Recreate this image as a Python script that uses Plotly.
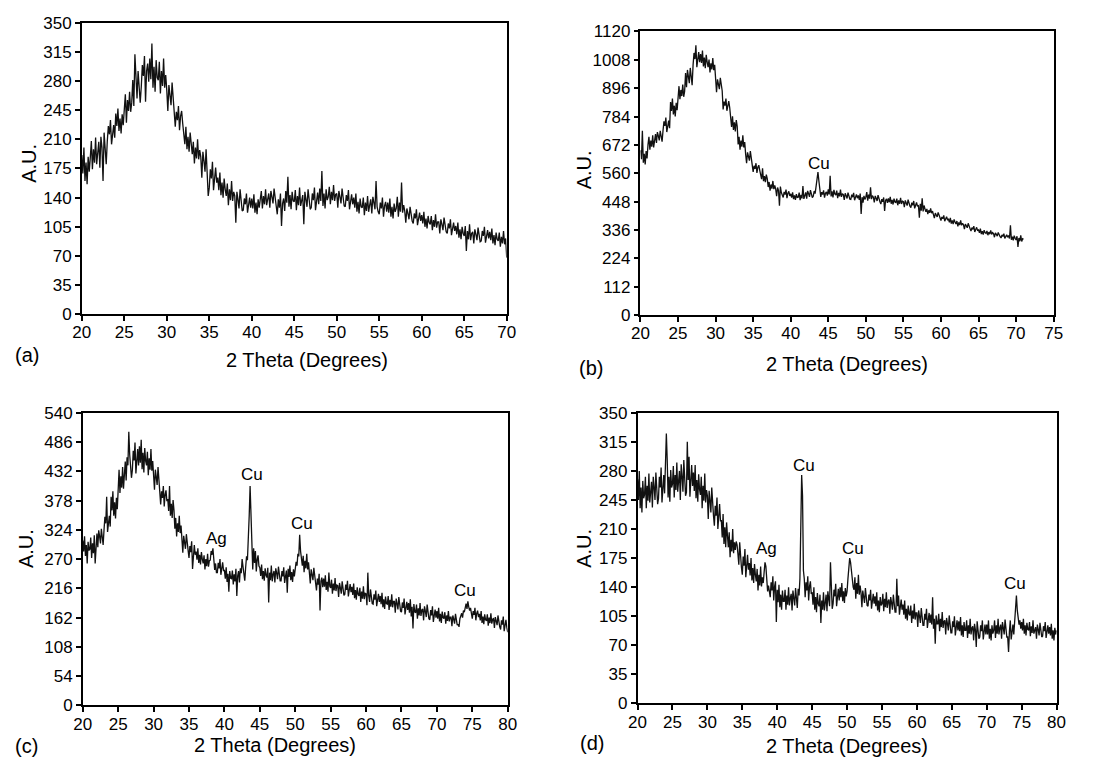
import numpy as np
import plotly.graph_objects as go

# ---- data: counts, 0.125 degree scan step, one row per degree ----
step = 0.125
a_start, b_start, c_start, d_start = 20.0, 20.0, 20.0, 20.0

a_counts = [
    191, 169, 200, 160, 182, 156, 189, 171,   # 20
    188, 208, 174, 198, 182, 212, 180, 194,   # 21
    207, 176, 213, 200, 160, 218, 191, 180,   # 22
    208, 226, 216, 233, 204, 221, 227, 212,   # 23
    241, 226, 247, 220, 235, 217, 240, 227,   # 24
    249, 264, 230, 257, 244, 267, 243, 254,   # 25
    281, 250, 312, 274, 259, 292, 265, 254,   # 26
    273, 299, 286, 310, 255, 292, 301, 279,   # 27
    307, 282, 325, 272, 297, 267, 305, 284,   # 28
    281, 303, 265, 292, 274, 307, 272, 287,   # 29
    269, 244, 275, 264, 251, 278, 257, 248,   # 30
    225, 243, 233, 250, 221, 238, 244, 229,   # 31
    219, 204, 225, 198, 213, 195, 218, 205,   # 32
    192, 207, 181, 200, 187, 210, 186, 197,   # 33
    189, 164, 195, 184, 171, 198, 177, 142,   # 34
    152, 174, 163, 183, 149, 169, 176, 158,   # 35
    164, 149, 170, 143, 158, 140, 163, 150,   # 36
    142, 157, 131, 150, 137, 160, 136, 147,   # 37
    142, 110, 147, 138, 127, 150, 131, 124,   # 38
    125, 139, 132, 145, 122, 135, 140, 128,   # 39
    139, 127, 144, 122, 134, 120, 138, 128,   # 40
    136, 148, 127, 142, 132, 150, 131, 139,   # 41
    145, 128, 148, 141, 133, 151, 136, 130,   # 42
    120, 138, 128, 145, 106, 133, 139, 124,   # 43
    148, 134, 165, 129, 143, 126, 147, 136,   # 44
    135, 149, 125, 142, 131, 152, 130, 139,   # 45
    143, 108, 147, 138, 129, 150, 133, 126,   # 46
    128, 145, 137, 152, 125, 141, 146, 132,   # 47
    151, 136, 172, 130, 145, 127, 150, 137,   # 48
    141, 153, 132, 147, 137, 155, 136, 144,   # 49
    145, 128, 148, 141, 133, 151, 136, 130,   # 50
    129, 143, 136, 149, 126, 139, 144, 132,   # 51
    140, 128, 145, 123, 135, 121, 139, 129,   # 52
    128, 140, 119, 134, 124, 142, 123, 131,   # 53
    138, 121, 141, 134, 126, 160, 129, 123,   # 54
    120, 134, 127, 140, 117, 130, 135, 123,   # 55
    134, 122, 139, 117, 129, 115, 133, 123,   # 56
    127, 141, 117, 134, 123, 158, 122, 131,   # 57
    124, 110, 127, 121, 114, 129, 117, 112,   # 58
    109, 121, 115, 126, 107, 118, 122, 112,   # 59
    119, 109, 123, 105, 115, 103, 118, 110,   # 60
    108, 118, 101, 113, 105, 120, 104, 111,   # 61
    111, 97, 114, 108, 101, 116, 104, 99,     # 62
    97, 109, 103, 114, 95, 106, 110, 100,     # 63
    106, 96, 110, 92, 102, 90, 105, 97,       # 64
    94, 106, 76, 100, 90, 108, 89, 97,        # 65
    99, 85, 102, 96, 89, 104, 92, 87,         # 66
    88, 100, 94, 105, 86, 97, 101, 91,        # 67
    99, 89, 103, 85, 95, 83, 98, 90,          # 68
    88, 98, 81, 93, 85, 100, 84, 91,          # 69
    68,                                       # 70
]

b_counts = [
    651, 616, 728, 602, 637, 595, 648, 619,           # 20
    674, 704, 653, 689, 665, 710, 662, 683,           # 21
    715, 680, 723, 708, 690, 728, 697, 685,           # 22
    729, 765, 747, 780, 723, 756, 768, 738,           # 23
    841, 806, 855, 792, 827, 785, 838, 809,           # 24
    874, 904, 853, 889, 865, 910, 862, 883,           # 25
    956, 900, 968, 944, 916, 976, 928, 908,           # 26
    987, 1035, 1011, 1065, 979, 1023, 1039, 999,      # 27
    1031, 996, 1045, 982, 1017, 975, 1028, 999,       # 28
    979, 1009, 958, 994, 970, 1015, 967, 988,         # 29
    922, 880, 931, 913, 892, 937, 901, 886,           # 30
    812, 843, 827, 855, 807, 835, 845, 820,           # 31
    773, 743, 785, 731, 761, 725, 770, 746,           # 32
    674, 704, 653, 689, 665, 710, 662, 683,           # 33
    635, 600, 643, 628, 610, 648, 617, 605,           # 34
    566, 590, 578, 600, 562, 584, 592, 572,           # 35
    557, 537, 580, 529, 549, 525, 555, 539,           # 36
    506, 526, 492, 516, 500, 530, 498, 512,           # 37
    498, 470, 504, 492, 432, 508, 484, 474,           # 38
    465, 487, 476, 496, 462, 482, 489, 471,           # 39
    479, 464, 485, 458, 473, 455, 478, 465,           # 40
    466, 484, 454, 475, 461, 510, 459, 472,           # 41
    485, 460, 491, 480, 467, 494, 473, 464,           # 42
    470, 490, 480, 510, 545, 565, 530, 500,           # 43
    467, 486, 476, 493, 464, 481, 487, 472,           # 44
    497, 477, 550, 469, 489, 465, 495, 479,           # 45
    474, 492, 462, 483, 469, 496, 467, 480,           # 46
    476, 455, 481, 472, 461, 484, 465, 458,           # 47
    457, 476, 466, 483, 454, 471, 477, 462,           # 48
    473, 455, 480, 400, 466, 444, 471, 457,           # 49
    466, 486, 452, 476, 460, 505, 458, 472,           # 50
    466, 445, 471, 462, 451, 474, 455, 448,           # 51
    439, 458, 448, 465, 412, 453, 459, 444,           # 52
    461, 446, 467, 440, 455, 437, 460, 447,           # 53
    445, 460, 434, 453, 440, 463, 439, 450,           # 54
    448, 427, 453, 444, 433, 456, 437, 430,           # 55
    425, 444, 434, 451, 422, 439, 445, 430,           # 56
    434, 385, 440, 413, 462, 410, 433, 420,           # 57
    408, 420, 399, 414, 404, 422, 403, 411,           # 58
    400, 383, 403, 396, 388, 406, 391, 385,           # 59
    374, 388, 381, 394, 371, 384, 389, 377,           # 60
    379, 367, 384, 362, 374, 360, 378, 368,           # 61
    360, 372, 351, 366, 356, 374, 355, 363,           # 62
    357, 340, 360, 353, 345, 363, 348, 342,           # 63
    332, 346, 339, 352, 329, 342, 347, 335,           # 64
    337, 325, 342, 320, 332, 318, 336, 326,           # 65
    323, 333, 316, 328, 320, 335, 319, 326,           # 66
    322, 308, 325, 319, 312, 327, 315, 310,           # 67
    305, 317, 311, 322, 303, 314, 318, 308,           # 68
    315, 303, 355, 298, 310, 296, 314, 304,           # 69
    297, 312, 270, 305, 292, 315, 291, 302,           # 70
    300,                                              # 71
]

c_counts = [
    304, 284, 312, 276, 296, 262, 302, 286,   # 20
    288, 310, 272, 299, 281, 314, 262, 294,   # 21
    317, 292, 323, 312, 299, 326, 305, 296,   # 22
    324, 348, 336, 385, 320, 342, 350, 330,   # 23
    385, 360, 395, 350, 375, 345, 383, 362,   # 24
    410, 435, 392, 423, 402, 440, 400, 418,   # 25
    450, 415, 458, 443, 505, 463, 432, 420,   # 26
    434, 470, 452, 485, 428, 461, 473, 443,   # 27
    478, 448, 490, 436, 466, 430, 475, 451,   # 28
    443, 468, 425, 456, 435, 473, 433, 451,   # 29
    429, 398, 435, 422, 407, 440, 413, 402,   # 30
    371, 395, 383, 405, 367, 389, 397, 377,   # 31
    381, 359, 405, 350, 372, 346, 379, 361,   # 32
    326, 346, 312, 336, 320, 350, 318, 332,   # 33
    307, 282, 313, 302, 289, 316, 295, 286,   # 34
    272, 294, 283, 303, 252, 289, 296, 278,   # 35
    284, 269, 290, 263, 278, 260, 283, 270,   # 36
    262, 277, 251, 270, 257, 280, 256, 267,   # 37
    268, 285, 278, 290, 270, 250, 262, 245,   # 38
    245, 263, 253, 270, 241, 258, 264, 249,   # 39
    249, 234, 255, 228, 243, 210, 248, 235,   # 40
    234, 249, 223, 242, 229, 252, 202, 239,   # 41
    248, 227, 253, 244, 270, 256, 237, 230,   # 42
    255, 275, 268, 300, 350, 405, 360, 300,   # 43
    251, 290, 263, 285, 247, 269, 277, 257,   # 44
    254, 239, 260, 233, 248, 230, 253, 240,   # 45
    236, 254, 190, 245, 231, 258, 229, 242,   # 46
    248, 227, 253, 244, 233, 256, 237, 230,   # 47
    230, 248, 238, 255, 226, 243, 249, 208,   # 48
    252, 237, 258, 231, 246, 228, 251, 238,   # 49
    255, 265, 258, 280, 275, 315, 285, 268,   # 50
    258, 276, 246, 267, 253, 280, 251, 264,   # 51
    246, 225, 251, 242, 231, 254, 235, 228,   # 52
    212, 234, 223, 243, 175, 229, 236, 218,   # 53
    234, 219, 240, 213, 228, 210, 245, 220,   # 54
    217, 232, 206, 225, 212, 235, 211, 222,   # 55
    221, 200, 226, 217, 206, 229, 210, 203,   # 56
    205, 223, 213, 230, 201, 218, 224, 209,   # 57
    219, 204, 225, 198, 213, 195, 218, 205,   # 58
    202, 217, 191, 210, 197, 220, 196, 207,   # 59
    206, 185, 245, 202, 191, 214, 195, 188,   # 60
    187, 205, 195, 212, 183, 200, 206, 191,   # 61
    202, 187, 208, 181, 196, 178, 201, 188,   # 62
    187, 202, 176, 195, 182, 205, 181, 192,   # 63
    192, 171, 197, 188, 177, 200, 181, 174,   # 64
    172, 190, 180, 197, 168, 185, 191, 176,   # 65
    189, 171, 196, 164, 182, 142, 187, 173,   # 66
    171, 186, 160, 179, 166, 189, 165, 176,   # 67
    178, 157, 183, 174, 163, 186, 167, 160,   # 68
    158, 176, 166, 183, 154, 171, 177, 162,   # 69
    174, 160, 180, 155, 169, 152, 173, 162,   # 70
    160, 172, 151, 166, 156, 174, 155, 163,   # 71
    163, 146, 166, 159, 151, 169, 154, 148,   # 72
    150, 145, 160, 165, 170, 162, 175, 172,   # 73
    180, 188, 178, 192, 182, 175, 180, 170,   # 74
    160, 174, 167, 180, 157, 170, 175, 163,   # 75
    169, 157, 174, 152, 164, 150, 168, 158,   # 76
    156, 168, 147, 162, 152, 170, 151, 159,   # 77
    160, 143, 163, 156, 148, 166, 151, 145,   # 78
    140, 157, 149, 164, 137, 153, 158, 144,   # 79
    135,                                      # 80
]

d_counts = [
    270, 245, 280, 235, 260, 230, 268, 247,   # 20
    251, 273, 235, 262, 244, 277, 242, 257,   # 21
    267, 236, 273, 260, 245, 278, 251, 240,   # 22
    247, 273, 260, 284, 242, 266, 275, 253,   # 23
    283, 325, 293, 248, 273, 243, 281, 260,   # 24
    264, 286, 248, 275, 257, 290, 255, 270,   # 25
    280, 245, 288, 273, 255, 293, 262, 250,   # 26
    254, 315, 269, 297, 249, 277, 287, 262,   # 27
    278, 256, 287, 247, 269, 243, 276, 258,   # 28
    251, 273, 235, 262, 244, 277, 242, 257,   # 29
    250, 222, 256, 244, 230, 260, 236, 226,   # 30
    214, 238, 226, 248, 210, 232, 240, 220,   # 31
    220, 200, 228, 192, 212, 188, 218, 202,   # 32
    188, 206, 176, 197, 183, 210, 181, 194,   # 33
    185, 195, 191, 180, 167, 194, 173, 164,   # 34
    155, 177, 166, 186, 152, 172, 179, 161,   # 35
    169, 154, 175, 148, 163, 145, 168, 155,   # 36
    147, 162, 136, 155, 142, 165, 141, 152,   # 37
    145, 158, 170, 165, 150, 135, 142, 132,   # 38
    128, 146, 136, 153, 124, 141, 147, 98,    # 39
    137, 122, 143, 116, 131, 113, 136, 123,   # 40
    123, 137, 113, 130, 119, 140, 118, 127,   # 41
    132, 112, 136, 127, 118, 139, 122, 115,   # 42
    138, 130, 150, 195, 275, 250, 160, 150,   # 43
    128, 146, 136, 153, 124, 141, 147, 132,   # 44
    134, 119, 140, 113, 128, 110, 133, 120,   # 45
    117, 131, 97, 124, 113, 134, 112, 121,    # 46
    131, 111, 135, 126, 117, 170, 121, 114,   # 47
    120, 137, 129, 144, 117, 133, 138, 124,   # 48
    140, 128, 145, 123, 135, 121, 139, 129,   # 49
    135, 150, 160, 175, 170, 160, 148, 140,   # 50
    137, 152, 126, 145, 132, 155, 131, 142,   # 51
    133, 116, 136, 129, 121, 139, 124, 118,   # 52
    117, 131, 124, 137, 114, 127, 132, 120,   # 53
    129, 117, 134, 112, 124, 110, 128, 118,   # 54
    120, 132, 111, 126, 116, 134, 115, 123,   # 55
    125, 108, 128, 121, 113, 131, 116, 110,   # 56
    110, 150, 117, 130, 107, 120, 125, 113,   # 57
    119, 107, 124, 102, 114, 100, 118, 108,   # 58
    106, 118, 97, 112, 102, 120, 101, 109,    # 59
    109, 92, 112, 105, 97, 115, 100, 94,      # 60
    94, 108, 101, 114, 91, 104, 109, 97,      # 61
    107, 95, 128, 90, 102, 72, 106, 96,       # 62
    96, 108, 87, 102, 92, 110, 91, 99,        # 63
    100, 83, 103, 96, 88, 106, 91, 85,        # 64
    85, 99, 92, 105, 82, 95, 100, 88,         # 65
    99, 87, 104, 82, 94, 80, 98, 88,          # 66
    88, 100, 79, 94, 84, 102, 83, 91,         # 67
    93, 76, 96, 89, 68, 99, 84, 78,           # 68
    80, 94, 87, 100, 77, 90, 95, 83,          # 69
    95, 83, 100, 78, 90, 76, 94, 84,          # 70
    88, 100, 79, 94, 84, 102, 83, 91,         # 71
    95, 78, 98, 91, 83, 101, 86, 80,          # 72
    80, 62, 87, 100, 77, 90, 95, 83,          # 73
    98, 110, 130, 112, 105, 95, 100, 90,      # 74
    98, 88, 102, 84, 94, 82, 97, 89,          # 75
    88, 98, 81, 93, 85, 100, 84, 91,          # 76
    92, 78, 95, 89, 82, 97, 85, 80,           # 77
    81, 93, 87, 98, 79, 90, 94, 84,           # 78
    92, 82, 96, 78, 88, 76, 91, 83,           # 79
    88,                                       # 80
]

panel_labels = ["(a)", "(b)", "(c)", "(d)"]
x_title = "2 Theta (Degrees)"
y_title = "A.U."

# peak labels: (panel index, 2theta, intensity, text)
peak_labels = [
    (1, 43.7, 600, "Cu"),
    (2, 38.9, 308, "Ag"), (2, 43.9, 427, "Cu"), (2, 51.0, 335, "Cu"), (2, 74.0, 212, "Cu"),
    (3, 38.45, 187, "Ag"), (3, 43.8, 286, "Cu"), (3, 50.8, 186, "Cu"), (3, 74.1, 144, "Cu"),
]

x_ranges = [(20, 70), (20, 75), (20, 80), (20, 80)]
y_ranges = [(0, 350), (0, 1120), (0, 540), (0, 350)]
y_dticks = [35, 112, 54, 35]

# ---- layout geometry (pixels) ----
W, H = 1100, 771
boxes = [  # left, right, top, bottom in px
    (74, 506, 14, 313),
    (642, 1062, 23, 314),
    (75, 507, 414, 714),
    (639, 1065, 414, 712),
]
xtitle_pos = [(303, 360), (852, 364), (270, 755), (852, 756)]
plabel_pos = [(4, 355), (577, 368), (4, 756), (578, 753)]
ytitle_pos = [(20, 158), (585, 165), (18, 553), (585, 553)]

FONT = "Liberation Sans, Arial, Helvetica, sans-serif"

series = [(a_start, a_counts), (b_start, b_counts), (c_start, c_counts), (d_start, d_counts)]

fig = go.Figure()
layout = dict(
    width=W, height=H, margin=dict(l=0, r=0, t=0, b=0),
    paper_bgcolor="white", plot_bgcolor="white", showlegend=False,
    font=dict(family=FONT, color="black", size=17),
)
annotations = []
for i, (start, counts) in enumerate(series):
    xs = start + step * np.arange(len(counts))
    xa = "x" if i == 0 else f"x{i+1}"
    ya = "y" if i == 0 else f"y{i+1}"
    fig.add_trace(go.Scatter(x=xs, y=counts, mode="lines", xaxis=xa, yaxis=ya,
                             line=dict(color="#111111", width=1.3), hoverinfo="skip"))
    l, r, t, b = boxes[i]
    xkey = "xaxis" if i == 0 else f"xaxis{i+1}"
    ykey = "yaxis" if i == 0 else f"yaxis{i+1}"
    axis_common = dict(showline=True, linecolor="black", linewidth=1.5, mirror=True,
                       ticks="outside", ticklen=5, tickwidth=1.5, tickcolor="black",
                       showgrid=False, zeroline=False,
                       tickfont=dict(family=FONT, size=17, color="black"))
    layout[xkey] = dict(domain=[l / W, r / W], range=list(x_ranges[i]), dtick=5,
                        tick0=20, anchor=ya, ticklabelstandoff=-3, **axis_common)
    layout[ykey] = dict(domain=[1 - b / H, 1 - t / H], range=list(y_ranges[i]),
                        dtick=y_dticks[i], tick0=0, anchor=xa, **axis_common)
    annotations.append(dict(text=x_title, x=xtitle_pos[i][0] / W, y=1 - xtitle_pos[i][1] / H,
                            xref="paper", yref="paper", showarrow=False,
                            xanchor="center", yanchor="middle", font=dict(size=20)))
    annotations.append(dict(text=panel_labels[i], x=plabel_pos[i][0] / W, y=1 - plabel_pos[i][1] / H,
                            xref="paper", yref="paper", showarrow=False,
                            xanchor="left", yanchor="middle", font=dict(size=20)))
    annotations.append(dict(text=y_title, x=ytitle_pos[i][0] / W, y=1 - ytitle_pos[i][1] / H,
                            xref="paper", yref="paper", showarrow=False, textangle=-90,
                            xanchor="center", yanchor="middle", font=dict(size=20)))

for (pi, px, py, txt) in peak_labels:
    xa = "x" if pi == 0 else f"x{pi+1}"
    ya = "y" if pi == 0 else f"y{pi+1}"
    annotations.append(dict(text=txt, x=px, y=py, xref=xa, yref=ya, showarrow=False,
                            xanchor="center", yanchor="middle", font=dict(size=17)))

layout["annotations"] = annotations
fig.update_layout(**layout)
fig.write_html("out.html")
